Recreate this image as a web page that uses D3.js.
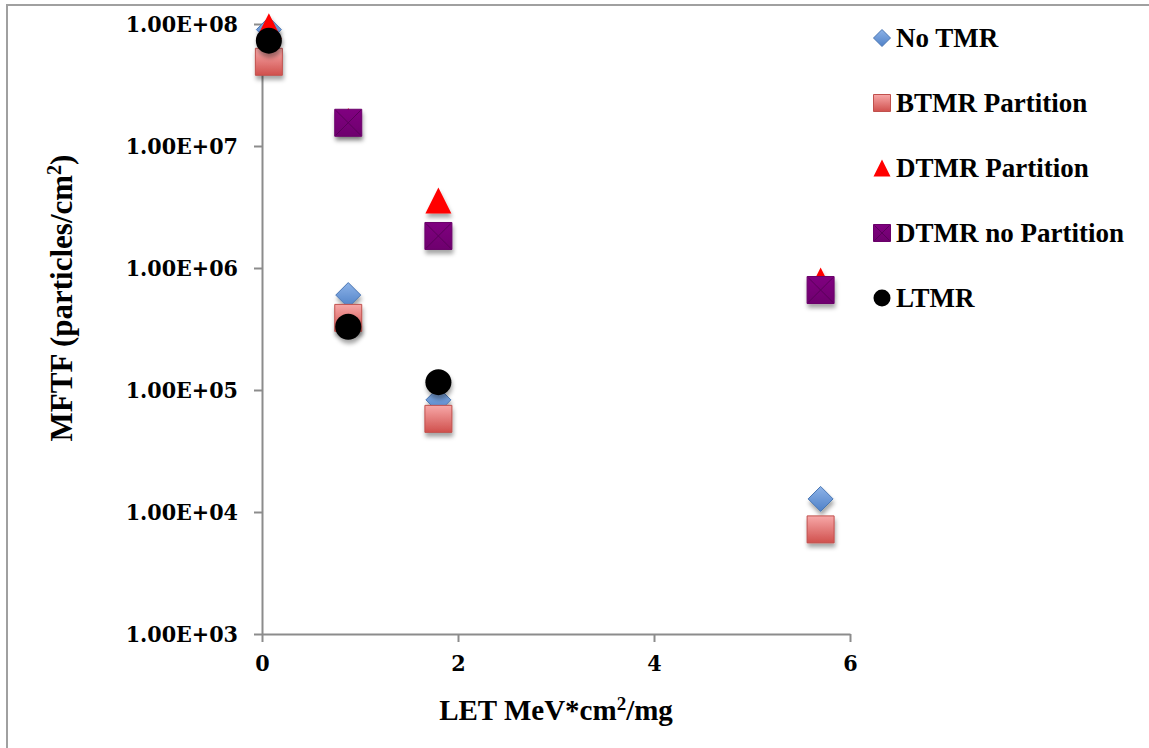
<!DOCTYPE html>
<html lang="en">
<head>
    <meta charset="UTF-8">
    <title>MFTF vs LET</title>
    <script src="https://d3js.org/d3.v7.min.js"></script>
    <style>
        body {
            margin: 0;
            background: #fff;
        }
        .label {
            font-family: "Liberation Serif", serif;
            font-weight: bold;
            fill: #000;
        }
        .tick-label {
            font-family: "DejaVu Serif Condensed", "DejaVu Serif", serif;
            font-weight: bold;
            fill: #000;
        }
        .axis line, .axis path {
            stroke: #8c8c8c;
            stroke-width: 2px;
        }
    </style>
</head>
<body>
    <div id="chart"></div>
    <script>
        // series names (legend order)
        const seriesNames = ["No TMR", "BTMR Partition", "DTMR Partition", "DTMR no Partition", "LTMR"];

        // LET values (x) and MFTF values (y) per series
        const noTmrX = [0.07, 0.88, 1.8, 5.7];
        const noTmrY = [9.0e7, 6.0e5, 8.3e4, 1.28e4];

        const btmrX = [0.07, 0.88, 1.8, 5.7];
        const btmrY = [4.9e7, 3.9e5, 5.8e4, 7.2e3];

        const dtmrX = [0.07, 0.88, 1.8, 5.7];
        const dtmrY = [9.6e7, 1.6e7, 3.57e6, 7.9e5];

        const dtmrNoX = [0.88, 1.8, 5.7];
        const dtmrNoY = [1.55e7, 1.83e6, 6.6e5];

        const ltmrX = [0.07, 0.88, 1.8];
        const ltmrY = [7.3e7, 3.3e5, 1.16e5];

        const xTicks = [0, 2, 4, 6];
        const yTicks = [1e3, 1e4, 1e5, 1e6, 1e7, 1e8];

        const W = 1149, H = 748;
        const margin = {top: 24, right: 299, bottom: 114, left: 262};
        const width = W - margin.left - margin.right,
              height = H - margin.top - margin.bottom;

        const svg = d3.select("#chart").append("svg")
            .attr("width", W)
            .attr("height", H);

        const defs = svg.append("defs");

        // soft drop shadow like the office chart
        const f = defs.append("filter").attr("id", "shadow")
            .attr("x", "-50%").attr("y", "-50%").attr("width", "200%").attr("height", "200%");
        f.append("feDropShadow")
            .attr("dx", 1).attr("dy", 4).attr("stdDeviation", 2)
            .attr("flood-color", "#000").attr("flood-opacity", 0.35);

        function grad(id, c1, c2) {
            const g = defs.append("linearGradient").attr("id", id)
                .attr("x1", 0).attr("y1", 0).attr("x2", 0).attr("y2", 1);
            g.append("stop").attr("offset", "0%").attr("stop-color", c1);
            g.append("stop").attr("offset", "100%").attr("stop-color", c2);
        }
        grad("gBlue", "#8db3e8", "#4f81c7");
        grad("gRed", "#f7a8a8", "#d0504d");
        grad("gPurple", "#800080", "#6e006e");

        // outer frame
        svg.append("path")
            .attr("d", "M7," + H + " V5 H" + W)
            .attr("fill", "none")
            .attr("stroke", "#a0a0a0")
            .attr("stroke-width", 2);

        const g = svg.append("g")
            .attr("transform", "translate(" + margin.left + "," + margin.top + ")");

        const x = d3.scaleLinear().domain([0, 6]).range([0, width]);
        const y = d3.scaleLog().domain([1e3, 1e8]).range([height, 0]);

        // axes
        const xAxis = g.append("g")
            .attr("class", "axis")
            .attr("transform", "translate(0," + height + ")")
            .call(d3.axisBottom(x).tickValues(xTicks).tickSize(8).tickSizeOuter(0).tickFormat(d3.format("d")));
        xAxis.selectAll("text")
            .attr("class", "tick-label")
            .attr("dy", "1.15em")
            .style("font-size", "23px");

        const yAxis = g.append("g")
            .attr("class", "axis")
            .call(d3.axisLeft(y).tickValues(yTicks).tickSize(8).tickSizeOuter(0)
                .tickFormat(d => "1.00E+" + String(Math.round(Math.log10(d))).padStart(2, "0")));
        yAxis.selectAll("text")
            .attr("class", "tick-label")
            .attr("x", -24)
            .style("font-size", "23px");

        // custom symbols (size = box edge in px)
        const symSquare = {draw(c, s) { const h = s / 2; c.rect(-h, -h, s, s); }};
        const symDiamond = {draw(c, s) { const h = s / 2; c.moveTo(0, -h); c.lineTo(h, 0); c.lineTo(0, h); c.lineTo(-h, 0); c.closePath(); }};
        const symTri = {draw(c, s) { const h = s / 2; c.moveTo(0, -h); c.lineTo(h, h); c.lineTo(-h, h); c.closePath(); }};
        const symCircle = {draw(c, s) { const r = s / 2; c.moveTo(r, 0); c.arc(0, 0, r, 0, 2 * Math.PI); }};

        const styles = [
            {type: symDiamond, size: 25, fill: "url(#gBlue)", stroke: "#4a76b3", sw: 1},
            {type: symSquare, size: 27, fill: "url(#gRed)", stroke: "#c0504d", sw: 1},
            {type: symTri, size: 26, fill: "#ff0000", stroke: "none", sw: 0},
            {type: symSquare, size: 27, fill: "url(#gPurple)", stroke: "#6a006a", sw: 1, cross: true},
            {type: symCircle, size: 26, fill: "#000", stroke: "none", sw: 0}
        ];

        const series = [
            {x: noTmrX, y: noTmrY},
            {x: btmrX, y: btmrY},
            {x: dtmrX, y: dtmrY},
            {x: dtmrNoX, y: dtmrNoY},
            {x: ltmrX, y: ltmrY}
        ];

        function drawMarker(sel, st, size) {
            sel.append("path")
                .attr("d", d3.symbol().type(st.type).size(size)())
                .attr("fill", st.fill)
                .attr("stroke", st.stroke)
                .attr("stroke-width", st.sw);
            if (st.cross) {
                const h = size / 2 - 1;
                sel.append("path")
                    .attr("d", "M" + (-h) + "," + (-h) + "L" + h + "," + h + "M" + h + "," + (-h) + "L" + (-h) + "," + h)
                    .attr("stroke", "#5a005a")
                    .attr("stroke-width", 1)
                    .attr("fill", "none");
            }
        }

        series.forEach((s, i) => {
            const st = styles[i];
            const pts = s.x.map((v, j) => ({x: v, y: s.y[j]}));
            g.append("g").selectAll("g")
                .data(pts)
                .enter().append("g")
                .attr("filter", "url(#shadow)")
                .attr("transform", d => "translate(" + x(d.x) + "," + y(d.y) + ")")
                .each(function() { drawMarker(d3.select(this), st, st.size); });
        });

        // legend
        const legend = svg.append("g").attr("transform", "translate(882,38)");
        seriesNames.forEach((name, i) => {
            const row = legend.append("g").attr("transform", "translate(0," + (i * 65) + ")");
            drawMarker(row, styles[i], 17);
            row.append("text")
                .attr("class", "label")
                .attr("x", 14)
                .attr("dy", "0.35em")
                .style("font-size", "27px")
                .text(name);
        });

        // axis titles
        const xt = svg.append("text")
            .attr("class", "label")
            .attr("x", margin.left + width / 2)
            .attr("y", 720)
            .attr("text-anchor", "middle")
            .style("font-size", "29px");
        xt.append("tspan").text("LET MeV*cm");
        xt.append("tspan").attr("dy", -10).style("font-size", "19px").text("2");
        xt.append("tspan").attr("dy", 10).text("/mg");

        const yt = svg.append("text")
            .attr("class", "label")
            .attr("transform", "translate(72,298) rotate(-90)")
            .attr("text-anchor", "middle")
            .style("font-size", "31px");
        yt.append("tspan").text("MFTF (particles/cm");
        yt.append("tspan").attr("dy", -11).style("font-size", "20px").text("2");
        yt.append("tspan").attr("dy", 11).text(")");
    </script>
</body>
</html>
